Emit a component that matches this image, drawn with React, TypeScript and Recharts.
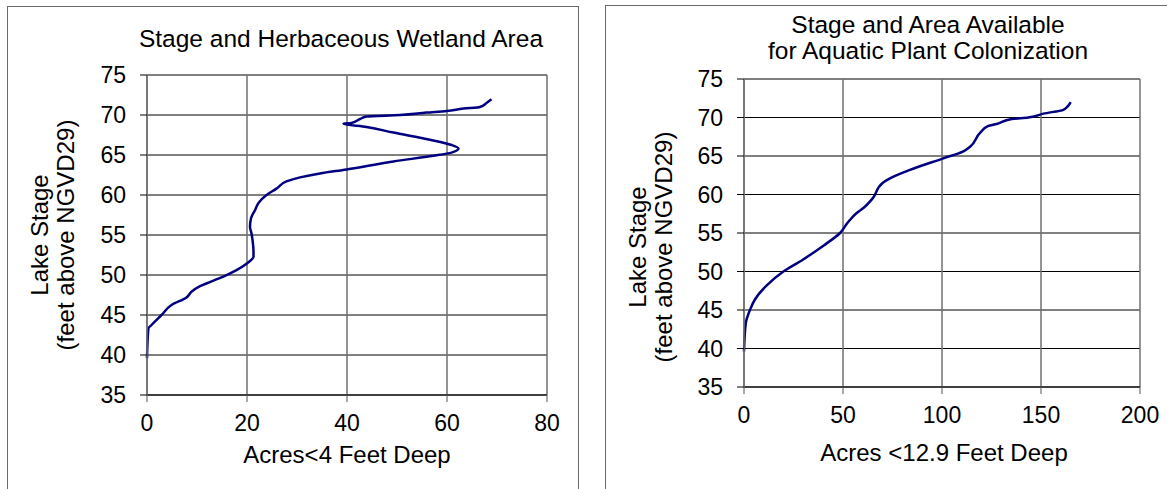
import React from 'react';
import { LineChart, Line, XAxis, YAxis, CartesianGrid } from 'recharts';

const FONT = '"Liberation Sans", Arial, Helvetica, sans-serif';

// Left chart: Stage and Herbaceous Wetland Area
const leftStage = [39.6, 43.3, 43.75, 45.0, 46.25, 47.2, 47.9, 48.6, 49.2, 49.9, 50.6, 51.4, 52.3, 52.9, 54.4, 55.2, 56.0, 57.1, 58.1, 59.0, 60.0, 60.8, 61.7, 62.2, 62.7, 63.2, 64.2, 64.9, 65.3, 65.8, 66.25, 66.9, 67.8, 68.5, 68.9, 69.0, 69.5, 69.8, 70.0, 70.3, 70.5, 70.8, 71.0, 71.5, 71.96];
const leftAcres = [0, 0.27, 0.9, 2.9, 4.9, 7.9, 8.9, 10.6, 12.9, 15.6, 17.9, 19.9, 21.3, 21.3, 21.1, 20.9, 20.6, 20.8, 21.6, 22.3, 23.9, 25.9, 27.9, 30.6, 34.6, 39.9, 49.3, 57.3, 60.9, 62.3, 60.9, 56.6, 49.3, 43.9, 39.3, 40.9, 42.6, 43.9, 50.6, 55.9, 59.9, 63.3, 66.6, 67.9, 68.9];
const leftXTicks = [0, 20, 40, 60, 80];

// Right chart: Stage and Area Available for Aquatic Plant Colonization
const rightStage = [39.6, 43.3, 45.0, 46.4, 48.2, 50.0, 51.5, 53.35, 55.0, 56.4, 57.6, 58.25, 59.5, 61.5, 62.1, 63.2, 64.7, 65.6, 66.2, 68.0, 68.9, 69.15, 69.8, 70.0, 70.5, 71.0, 71.4, 72.0];
const rightAcres = [0, 0.9, 3.0, 5.6, 11.5, 19.9, 29.5, 40.1, 48.5, 52.5, 56.9, 60.3, 65.0, 70.0, 73.7, 83.8, 100.7, 110.8, 114.2, 119.2, 123.4, 127.6, 135.2, 143.6, 151.2, 161.3, 163.3, 165.0];
const rightXTicks = [0, 50, 100, 150, 200];

const stageTicks = [35, 40, 45, 50, 55, 60, 65, 70, 75];

const leftData = leftStage.map((s, i) => ({ stage: s, acres: leftAcres[i] }));
const rightData = rightStage.map((s, i) => ({ stage: s, acres: rightAcres[i] }));

const tickStyle = { fontSize: 23, fill: '#000', fontFamily: FONT };

function Panel({ data, xTicks, margin }: { data: any[]; xTicks: number[]; margin: any }) {
  return (
    <LineChart width={580} height={489} data={data} layout="vertical" margin={margin}>
      <CartesianGrid vertical={false} stroke="#000" strokeWidth={1} />
      <CartesianGrid horizontal={false} stroke="#707070" strokeWidth={1.5} />
      <XAxis
        type="number"
        dataKey="acres"
        domain={[xTicks[0], xTicks[xTicks.length - 1]]}
        ticks={xTicks}
        interval={0}
        height={40}
        tickSize={7}
        tickMargin={13}
        stroke="#000"
        axisLine={{ stroke: '#000' }}
        tickLine={{ stroke: '#555' }}
        tick={tickStyle}
      />
      <YAxis
        type="number"
        dataKey="stage"
        domain={[35, 75]}
        ticks={stageTicks}
        interval={0}
        reversed
        width={60}
        tickSize={7}
        tickMargin={14}
        axisLine={{ stroke: '#707070', strokeWidth: 1.5 }}
        tickLine={{ stroke: '#000' }}
        tick={tickStyle}
      />
      <Line
        dataKey="acres"
        type="monotoneY"
        stroke="#000080"
        strokeWidth={2.5}
        dot={false}
        isAnimationActive={false}
      />
    </LineChart>
  );
}

export default function App() {
  const textStyle: any = { fontFamily: FONT, fill: '#000' };
  return (
    <div style={{ position: 'fixed', left: 0, top: 0, width: 1167, height: 489, overflow: 'hidden', background: '#fff' }}>
      <div style={{ position: 'absolute', left: 7, top: 6, width: 570, height: 600, border: '1px solid #6a6a6a' }} />
      <div style={{ position: 'absolute', left: 605, top: 5, width: 700, height: 600, border: '1px solid #6a6a6a' }} />
      <div style={{ position: 'absolute', left: 0, top: 0 }}>
        <Panel data={leftData} xTicks={leftXTicks} margin={{ top: 75, right: 33, bottom: 54, left: 87 }} />
      </div>
      <div style={{ position: 'absolute', left: 587, top: 0 }}>
        <Panel data={rightData} xTicks={rightXTicks} margin={{ top: 79, right: 27, bottom: 62, left: 97 }} />
      </div>
      <svg width={1167} height={489} style={{ position: 'absolute', left: 0, top: 0, pointerEvents: 'none' }}>
        <text x={341} y={47} textAnchor="middle" fontSize={24.5} style={textStyle}>Stage and Herbaceous Wetland Area</text>
        <text x={347} y={463} textAnchor="middle" fontSize={24} style={textStyle}>Acres&lt;4 Feet Deep</text>
        <text x={48} y={235} textAnchor="middle" fontSize={24} transform="rotate(-90, 48, 235)" style={textStyle}>Lake Stage</text>
        <text x={74} y={235} textAnchor="middle" fontSize={24} transform="rotate(-90, 74, 235)" style={textStyle}>(feet above NGVD29)</text>

        <text x={928} y={33} textAnchor="middle" fontSize={24.5} style={textStyle}>Stage and Area Available</text>
        <text x={928} y={59} textAnchor="middle" fontSize={24.5} style={textStyle}>for Aquatic Plant Colonization</text>
        <text x={944} y={461} textAnchor="middle" fontSize={24} style={textStyle}>Acres &lt;12.9 Feet Deep</text>
        <text x={646} y={247} textAnchor="middle" fontSize={24} transform="rotate(-90, 646, 247)" style={textStyle}>Lake Stage</text>
        <text x={672} y={247} textAnchor="middle" fontSize={24} transform="rotate(-90, 672, 247)" style={textStyle}>(feet above NGVD29)</text>
      </svg>
    </div>
  );
}
